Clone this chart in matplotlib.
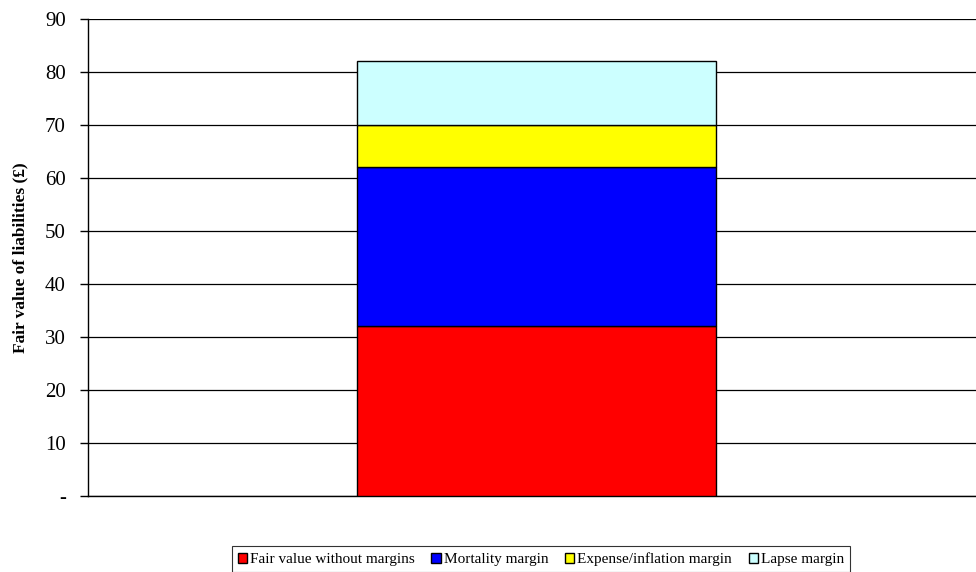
import matplotlib.pyplot as plt
from matplotlib.ticker import FixedLocator, FuncFormatter

plt.rcParams['font.family'] = ['Liberation Serif', 'DejaVu Serif']

components = ["Fair value without margins", "Mortality margin",
              "Expense/inflation margin", "Lapse margin"]
values = [32, 30, 8, 12]
colors = ["#FF0000", "#0000FF", "#FFFF00", "#CCFFFF"]
yticks = [0, 10, 20, 30, 40, 50, 60, 70, 80, 90]

fig = plt.figure(figsize=(9.76, 5.72), dpi=100)
ax = fig.add_axes([88 / 976, 1 - 496 / 572, 1 - 88 / 976, (496 - 19) / 572])

bottom = 0
for name, v, c in zip(components, values, colors):
    ax.bar(0.005, v, width=0.404, bottom=bottom, color=c, edgecolor="black",
           linewidth=1.0, label=name, zorder=3)
    bottom += v

ax.set_xlim(-0.5, 0.5)
ax.set_ylim(0, 90)
ax.yaxis.set_major_locator(FixedLocator(yticks))
ax.yaxis.set_major_formatter(FuncFormatter(lambda v, p: "-" if v == 0 else f"{v:.0f}"))
ax.grid(axis="y", color="black", linewidth=0.9, zorder=0)
ax.set_xticks([])
for s in ["top", "right"]:
    ax.spines[s].set_visible(False)
ax.spines["left"].set_linewidth(1.0)
ax.spines["bottom"].set_linewidth(1.0)
ax.tick_params(axis="y", direction="out", length=6, width=1.0, labelsize=15, pad=10)
ax.set_ylabel("Fair value of liabilities (£)", fontsize=12.5, fontweight="bold", labelpad=12)

leg = fig.legend(loc="lower center", bbox_to_anchor=(541 / 976, -0.014), ncol=4,
                 fontsize=11, frameon=True, fancybox=False, edgecolor="black",
                 handlelength=0.6, handleheight=0.6, handletextpad=0.2,
                 columnspacing=1.1, borderpad=0.4)
leg.get_frame().set_linewidth(0.8)

fig.savefig("out.png", dpi=100)
